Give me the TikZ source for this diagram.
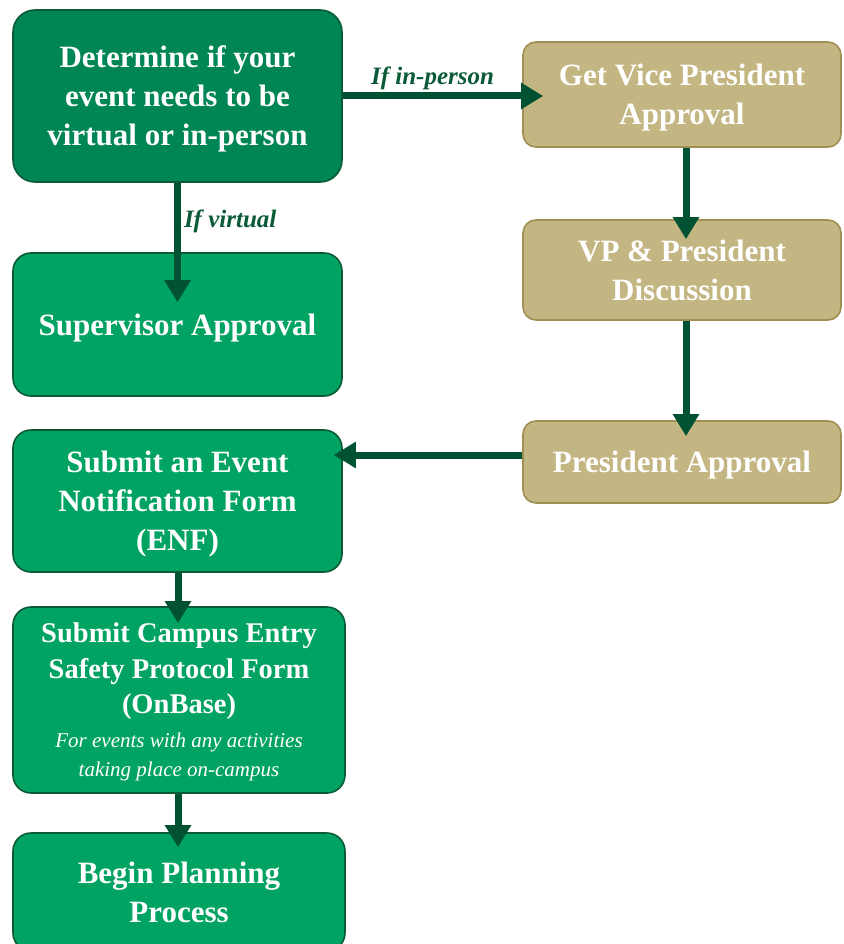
\documentclass[tikz,border=0pt]{standalone}
\usepackage{fontspec}
\setmainfont{Liberation Serif}
\usepackage{tikz}
\usetikzlibrary{arrows.meta}
\usetikzlibrary{calc}
\usetikzlibrary{positioning}

\definecolor{deepgreen}{RGB}{0,133,84}
\definecolor{stepgreen}{RGB}{0,163,98}
\definecolor{rimgreen}{RGB}{10,90,56}
\definecolor{arrowgreen}{RGB}{0,82,50}
\definecolor{tanfill}{RGB}{196,182,130}
\definecolor{tanrim}{RGB}{160,143,82}

\newcommand\notefont{\fontsize{21}{30}\selectfont\mdseries\itshape}

\begin{document}
\begin{tikzpicture}
[
	x = 1pt, y = -1pt,
	box/.style = {rectangle, rounded corners = 18pt, draw = rimgreen, line width = 1.6pt, fill = stepgreen, text = white, align = center, inner sep = 0pt, text depth = 0pt, minimum width = 329pt, font = \fontsize{31}{39}\selectfont\bfseries},
	topbox/.style = {box, fill = deepgreen, rounded corners = 22pt},
	vpbox/.style = {box, fill = tanfill, draw = tanrim, rounded corners = 13pt, minimum width = 318pt},
	flow/.style = {-{Triangle[length = 22pt, width = 25pt]}, line width = 7pt, draw = arrowgreen},
	lbl/.style = {text = rimgreen, font = \fontsize{25}{28}\selectfont\bfseries\itshape, inner sep = 3pt},
]
	\useasboundingbox (0,0) rectangle (843,944);

	% left column
	\node (det) [topbox, minimum height = 172pt] at (177.5,96) {Determine if your\\event needs to be\\virtual or in-person};
	\node (sup) [box, minimum height = 143pt] at (177.5,324.5) {Supervisor Approval};
	\node (enf) [box, minimum height = 142pt] at (177.5,501) {Submit an Event\\Notification Form\\(ENF)};
	\node (cesp) [box, minimum width = 332pt, minimum height = 186pt, font = \fontsize{28.5}{35.5}\selectfont\bfseries] at (179,700)
		{Submit Campus Entry\\Safety Protocol Form\\(OnBase)\\[-2pt]
		 \notefont For events with any activities\\[-6pt]\notefont taking place on-campus};
	\node (plan) [box, minimum width = 332pt, minimum height = 118pt] at (179,892) {Begin Planning\\Process};

	% right column
	\node (vpa) [vpbox, minimum height = 105pt] at (682,94.5) {Get Vice President\\Approval};
	\node (disc) [vpbox, minimum height = 100pt] at (682,270) {VP \& President\\Discussion};
	\node (pres) [vpbox, minimum height = 82pt] at (682,462) {President Approval};

	% paths
	\draw [flow, shorten > = -21pt] (det.east) -- node [lbl, above, pos = 0.5] {If in-person} (det.east -| vpa.west);
	\draw [flow, shorten > = -50pt] (det.south) -- node [lbl, right, pos = 0.55] {If virtual} (sup.north);
	\draw [flow, shorten > = -20pt] (vpa.south -| 686,0) -- (disc.north -| 686,0);
	\draw [flow, shorten > = -16pt] (disc.south -| 686,0) -- (pres.north -| 686,0);
	\draw [flow, shorten > = -9pt] ([yshift = 7pt]pres.west) -- ([yshift = 7pt]pres.west -| enf.east);
	\draw [flow, shorten > = -17pt] (enf.south -| 178,0) -- (cesp.north -| 178,0);
	\draw [flow, shorten > = -15pt] (cesp.south -| 178,0) -- (plan.north -| 178,0);

\end{tikzpicture}
\end{document}
